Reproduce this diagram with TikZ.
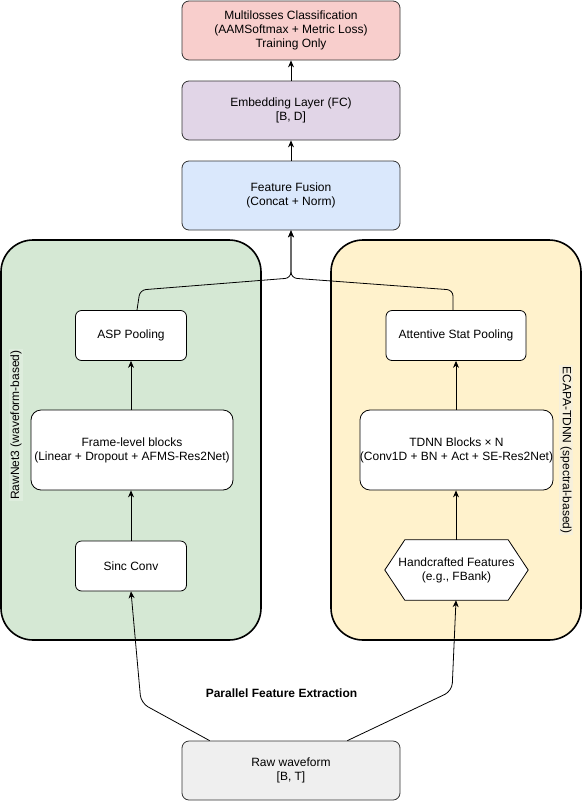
\documentclass[tikz,border=0pt]{standalone}
\usepackage{fontspec}
\setmainfont{Liberation Sans}
\usetikzlibrary{arrows.meta,calc}
\definecolor{redf}{HTML}{F8CECC}
\definecolor{purf}{HTML}{E1D5E7}
\definecolor{bluef}{HTML}{DAE8FC}
\definecolor{greenf}{HTML}{D5E8D4}
\definecolor{yellowf}{HTML}{FFF2CC}
\definecolor{grayf}{HTML}{EFEFEF}
\definecolor{strk}{HTML}{333333}
\definecolor{greenlbl}{HTML}{DEEDDD}
\definecolor{yellowlbl}{HTML}{F6F0DC}
\begin{document}
\begin{tikzpicture}[x=1pt,y=-1pt,
  font=\fontsize{12}{14}\selectfont,
  topbox/.style={draw=strk, line width=0.8pt, rounded corners=7pt, align=center, inner sep=0pt, minimum width=218pt},
  inbox/.style={draw=black, line width=0.8pt, fill=white, rounded corners=6pt, align=center, inner sep=0pt},
  container/.style={draw=black, line width=1.6pt, rounded corners=32pt, inner sep=0pt, minimum width=260pt, minimum height=400pt},
  arr/.style={draw=black, line width=0.8pt, -{Stealth[length=7pt,width=6pt]}},
  sidelbl/.style={inner sep=1pt}
]
\useasboundingbox (0,0) rectangle (582,801);

% containers
\node[container, fill=greenf] (left) at (131,440) {};
\node[container, fill=yellowf, minimum width=250pt] (right) at (456,440) {};
\node[sidelbl, rotate=90, fill=greenlbl] (leftlbl) at (16,425) {RawNet3 (waveform-based)};
\node[sidelbl, rotate=-90, fill=yellowlbl] (rightlbl) at (566,450) {ECAPA-TDNN (spectral-based)};

% top boxes
\node[topbox, fill=redf, minimum height=59pt] (multi) at (291,30.5) {Multilosses Classification\\(AAMSoftmax + Metric Loss)\\Training Only};
\node[topbox, fill=purf, minimum height=59pt] (emb) at (291,110.5) {Embedding Layer (FC)\\{}[B, D]};
\node[topbox, fill=bluef, minimum height=69pt] (fusion) at (291,195.5) {Feature Fusion\\(Concat + Norm)};

% left branch
\node[inbox, minimum width=111pt, minimum height=50pt] (asp) at (131,335.5) {ASP Pooling};
\node[inbox, rounded corners=10pt, minimum width=202pt, minimum height=80pt] (frame) at (132,450) {Frame-level blocks\\(Linear + Dropout + AFMS-Res2Net)};
\node[inbox, minimum width=111pt, minimum height=50pt] (sinc) at (131,566) {Sinc Conv};

% right branch
\node[inbox, minimum width=140pt, minimum height=50pt] (att) at (456,335.5) {Attentive Stat Pooling};
\node[inbox, rounded corners=10pt, minimum width=193pt, minimum height=80pt] (tdnn) at (456.5,450) {TDNN Blocks × N\\(Conv1D + BN + Act + SE-Res2Net)};
\node[align=center, inner sep=0pt, minimum width=143pt, minimum height=60pt] (hex) at (456.5,570) {};
\draw[black, line width=0.8pt, fill=white] (hex.west) -- ($(hex.north west)+(20,0)$) -- ($(hex.north east)+(-20,0)$) -- (hex.east) -- ($(hex.south east)+(-20,0)$) -- ($(hex.south west)+(20,0)$) -- cycle;
\node[align=center] (hextxt) at (hex.center) {Handcrafted Features\\(e.g., FBank)};

% bottom
\node[topbox, fill=grayf, minimum height=59pt] (raw) at (291,770.5) {Raw waveform\\{}[B, T]};
\node[font=\fontsize{12}{14}\selectfont\bfseries] (pfe) at (281.5,693) {Parallel Feature Extraction};

% connectors
\draw[arr] (emb.north) -- (multi.south);
\draw[arr] (fusion.north) -- (emb.south);
\draw[arr, rounded corners=6pt] ($(asp.north)+(6,0)$) -- (140,290) -- (291,278) -- (fusion.south);
\draw[arr, rounded corners=6pt] ($(att.north)+(-3,0)$) -- (453,290) -- (291,278) -- (fusion.south);
\draw[arr] (frame.north -| asp.north) -- (asp.south);
\draw[arr] (sinc.north) -- (frame.south -| sinc.north);
\draw[arr] (tdnn.north -| att.north) -- (att.south);
\draw[arr] (hex.north -| att.north) -- (tdnn.south -| att.north);
\draw[arr, rounded corners=8pt] ($(raw.north west)+(28,0)$) -- (141,703) -- (sinc.south);
\draw[arr, rounded corners=8pt] ($(raw.north east)+(-53,0)$) -- (452,691) -- (hex.south -| att.north);
\end{tikzpicture}
\end{document}
